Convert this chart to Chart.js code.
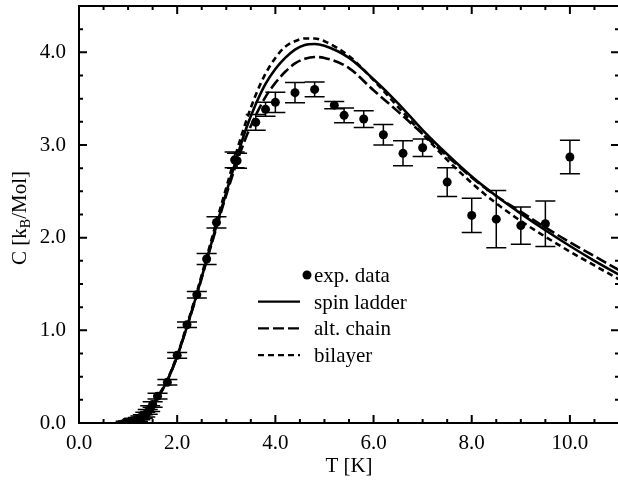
<!DOCTYPE html>
<html>
<head>
<meta charset="utf-8">
<script src="https://cdn.jsdelivr.net/npm/chart.js@4.4.1/dist/chart.umd.min.js"></script>
<style>
  html, body { margin: 0; padding: 0; background: #fff; overflow: hidden; }
  #wrap { width: 618px; height: 485px; overflow: hidden; }
</style>
</head>
<body>
<div id="wrap"><canvas id="c" width="620" height="485"></canvas></div>
<script>
// measured specific heat
const expT = [0.95, 1.0, 1.05, 1.1, 1.15, 1.2, 1.25, 1.3, 1.35, 1.4, 1.45, 1.5, 1.6, 1.8, 2.0, 2.2, 2.4, 2.6, 2.8,
  3.17, 3.22, 3.6, 3.8, 4.0, 4.4, 4.8, 5.2, 5.4, 5.8, 6.2, 6.6, 7.0, 7.5, 8.0, 8.5, 9.0, 9.5, 10.0];
const expC = [0.01, 0.012, 0.016, 0.02, 0.03, 0.04, 0.055, 0.07, 0.09, 0.12, 0.155, 0.2, 0.29, 0.44, 0.73, 1.06, 1.385, 1.77, 2.165,
  2.84, 2.83, 3.245, 3.385, 3.46, 3.565, 3.60, 3.43, 3.32, 3.28, 3.11, 2.91, 2.97, 2.60, 2.24, 2.20, 2.13, 2.15, 2.87];
const expErr = [0.01, 0.01, 0.01, 0.015, 0.015, 0.02, 0.02, 0.02, 0.025, 0.025, 0.03, 0.03, 0.03, 0.03, 0.03, 0.03, 0.035, 0.06, 0.06,
  0.085, 0.08, 0.085, 0.075, 0.11, 0.11, 0.08, 0.04, 0.08, 0.09, 0.11, 0.135, 0.095, 0.155, 0.185, 0.31, 0.20, 0.245, 0.18];

// model curves
const curveT = [0.9, 1.0, 1.2, 1.4, 1.6, 1.8, 2.0, 2.2, 2.4, 2.6, 2.8, 3.0, 3.2, 3.4, 3.6, 3.8, 4.0, 4.2, 4.4, 4.6, 4.8, 5.0,
  5.5, 6.0, 6.5, 7.0, 7.5, 8.0, 8.5, 9.0, 9.5, 10.0, 10.5, 11.0];
const ladderC = [0.0, 0.01, 0.05, 0.13, 0.27, 0.46, 0.72, 1.04, 1.39, 1.76, 2.13, 2.49, 2.84, 3.17, 3.44, 3.66, 3.82, 3.94, 4.03, 4.08, 4.09, 4.07,
  3.94, 3.71, 3.45, 3.16, 2.90, 2.66, 2.45, 2.26, 2.08, 1.91, 1.75, 1.60];
const chainC = [0.0, 0.01, 0.05, 0.13, 0.27, 0.46, 0.72, 1.04, 1.38, 1.75, 2.11, 2.46, 2.79, 3.08, 3.32, 3.52, 3.67, 3.79, 3.88, 3.93, 3.95, 3.94,
  3.83, 3.59, 3.36, 3.12, 2.88, 2.65, 2.45, 2.28, 2.11, 1.95, 1.80, 1.65];
const bilayerC = [0.0, 0.01, 0.05, 0.13, 0.28, 0.47, 0.73, 1.06, 1.41, 1.79, 2.17, 2.54, 2.91, 3.25, 3.54, 3.77, 3.94, 4.06, 4.12, 4.15, 4.15, 4.12,
  3.96, 3.70, 3.41, 3.12, 2.84, 2.59, 2.37, 2.18, 2.01, 1.85, 1.70, 1.55];

const xTicks = [0, 2, 4, 6, 8, 10];
const yTicks = [0, 1, 2, 3, 4];

const FONT = '"Liberation Serif", "Times New Roman", serif';
const toXY = (xs, ys) => xs.map((x, i) => ({ x, y: ys[i] }));

// vertical error bars with caps
const errorBars = {
  id: 'errorBars',
  beforeDatasetsDraw(chart) {
    const { ctx, scales: { x, y } } = chart;
    ctx.save();
    ctx.strokeStyle = '#000';
    ctx.lineWidth = 1.5;
    expT.forEach((t, i) => {
      const px = x.getPixelForValue(t);
      const top = y.getPixelForValue(expC[i] + expErr[i]);
      const bot = y.getPixelForValue(expC[i] - expErr[i]);
      ctx.beginPath();
      ctx.moveTo(px, top); ctx.lineTo(px, bot);
      ctx.moveTo(px - 10, top); ctx.lineTo(px + 10, top);
      ctx.moveTo(px - 10, bot); ctx.lineTo(px + 10, bot);
      ctx.stroke();
    });
    ctx.restore();
  }
};

// box frame with inward ticks on all four sides
const frame = {
  id: 'frame',
  afterDatasetsDraw(chart) {
    const { ctx, chartArea: a, scales: { x, y } } = chart;
    ctx.save();
    ctx.strokeStyle = '#000';
    ctx.lineWidth = 2;
    ctx.strokeRect(a.left, a.top, a.right - a.left, a.bottom - a.top);
    ctx.beginPath();
    for (let v = 0.5; v < 11; v += 0.5) {
      const px = x.getPixelForValue(v);
      const len = v % 2 === 0 ? 8 : 4;
      ctx.moveTo(px, a.bottom); ctx.lineTo(px, a.bottom - len);
      ctx.moveTo(px, a.top); ctx.lineTo(px, a.top + len);
    }
    for (let v = 0.25; v < 4.5; v += 0.25) {
      const py = y.getPixelForValue(v);
      const len = v % 1 === 0 ? 8 : 4;
      ctx.moveTo(a.left, py); ctx.lineTo(a.left + len, py);
      ctx.moveTo(a.right, py); ctx.lineTo(a.right - len, py);
    }
    ctx.stroke();

    // y title with subscript
    ctx.fillStyle = '#000';
    ctx.translate(26, 218);
    ctx.rotate(-Math.PI / 2);
    ctx.textBaseline = 'alphabetic';
    const big = '21px ' + FONT, small = '14px ' + FONT;
    const parts = [['C [k', big, 0], ['B', small, 4], ['/Mol]', big, 0]];
    let w = 0;
    parts.forEach(p => { ctx.font = p[1]; w += ctx.measureText(p[0]).width; });
    let cx = -w / 2;
    parts.forEach(p => { ctx.font = p[1]; ctx.fillText(p[0], cx, p[2]); cx += ctx.measureText(p[0]).width; });
    ctx.restore();
  }
};

// legend drawn inside the plot
const innerLegend = {
  id: 'innerLegend',
  afterDraw(chart) {
    const { ctx, chartArea: a } = chart;
    const lx = a.left + 179, ly = a.top + 269, step = 26.7;
    ctx.save();
    ctx.fillStyle = '#000';
    ctx.strokeStyle = '#000';
    ctx.font = '21px ' + FONT;
    ctx.textBaseline = 'alphabetic';
    chart.data.datasets.forEach((ds, i) => {
      const yy = ly + i * step;
      if (ds.type === 'scatter') {
        ctx.beginPath();
        ctx.arc(lx + 49, yy, 4.5, 0, Math.PI * 2);
        ctx.fill();
      } else {
        ctx.lineWidth = 2.2;
        ctx.setLineDash(ds.borderDash || []);
        ctx.beginPath();
        ctx.moveTo(lx, yy); ctx.lineTo(lx + 42, yy);
        ctx.stroke();
        ctx.setLineDash([]);
      }
      ctx.fillText(ds.label, lx + 56, yy + 7);
    });
    ctx.restore();
  }
};

const lineDs = (label, ys, dash) => ({
  type: 'line', label, data: toXY(curveT, ys), borderColor: '#000', borderWidth: 2.6,
  borderDash: dash, pointRadius: 0, cubicInterpolationMode: 'monotone', order: 2
});

new Chart(document.getElementById('c'), {
  data: {
    datasets: [
      { type: 'scatter', label: 'exp. data', data: toXY(expT, expC), pointRadius: 4.5,
        backgroundColor: '#000', borderWidth: 0, order: 0 },
      lineDs('spin ladder', ladderC, []),
      lineDs('alt. chain', chainC, [11, 4]),
      lineDs('bilayer', bilayerC, [6, 4])
    ]
  },
  options: {
    responsive: false,
    animation: false,
    layout: { autoPadding: false, padding: { top: 6, right: 1, left: 0, bottom: 0 } },
    plugins: { legend: { display: false }, tooltip: { enabled: false } },
    scales: {
      x: {
        type: 'linear', min: 0, max: 11,
        afterBuildTicks: s => { s.ticks = xTicks.map(v => ({ value: v })); },
        afterFit: s => { s.height = 62; s.paddingLeft = 0; s.paddingRight = 0; },
        grid: { display: false, drawTicks: false },
        border: { display: false },
        ticks: { color: '#000', font: { family: FONT, size: 21 }, padding: 8, callback: v => v.toFixed(1) },
        title: { display: true, text: 'T [K]', color: '#000', font: { family: FONT, size: 21 }, padding: { top: 0, bottom: 6 } }
      },
      y: {
        type: 'linear', min: 0, max: 4.5,
        afterBuildTicks: s => { s.ticks = yTicks.map(v => ({ value: v })); },
        afterFit: s => { s.width = 79; s.paddingTop = 0; s.paddingBottom = 0; },
        grid: { display: false, drawTicks: false },
        border: { display: false },
        ticks: { color: '#000', font: { family: FONT, size: 21 }, padding: 13, callback: v => v.toFixed(1) }
      }
    }
  },
  plugins: [errorBars, frame, innerLegend]
});
</script>
</body>
</html>
